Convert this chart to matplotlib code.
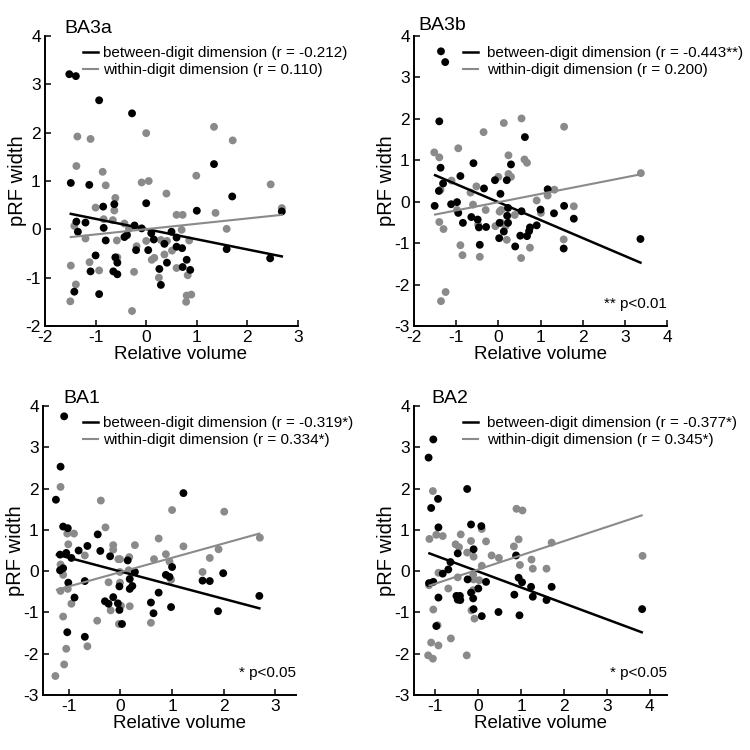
import matplotlib
matplotlib.use("Agg")
import matplotlib.pyplot as plt
import numpy as np

plt.rcParams['font.family'] = ['Liberation Sans', 'DejaVu Sans']
plt.rcParams['axes.unicode_minus'] = False

# ---------------- data ----------------
titles = ["BA3a", "BA3b", "BA1", "BA2"]
between_labels = ["between-digit dimension (r = -0.212)",
                  "between-digit dimension (r = -0.443**)",
                  "between-digit dimension (r = -0.319*)",
                  "between-digit dimension (r = -0.377*)"]
within_labels = ["within-digit dimension (r = 0.110)",
                 "within-digit dimension (r = 0.200)",
                 "within-digit dimension (r = 0.334*)",
                 "within-digit dimension (r = 0.345*)"]
notes = ["", "** p<0.01", "* p<0.05", "* p<0.05"]

# BA3a
ba3a_between_x = [-1.52, -1.39, -0.93, -0.28, -1.49, -1.125, 1.34, 1.70, 2.68, 1.0, 0.0, -0.85, -0.63,
                  -1.38, -1.2, -1.35, -0.84, -0.80, -0.43, -0.38, -0.23, -0.20, -0.09, 0.10, 0.15, 0.04,
                  0.36, 0.50, 0.60, 0.60, 0.71, 0.41, 0.26, 0.29, 0.80, 0.72, 0.87, 1.59, 2.45, -1.0,
                  -1.1, -0.65, -0.57, -0.57, -0.61, -1.42, -0.93]
ba3a_between_y = [3.21, 3.17, 2.67, 2.40, 0.96, 0.92, 1.35, 0.68, 0.37, 0.385, 0.54, 0.47, 0.52,
                  0.16, 0.14, -0.05, 0.03, -0.23, -0.16, -0.12, 0.08, -0.43, 0.02, -0.08, -0.21, -0.43,
                  -0.30, -0.05, -0.17, -0.36, -0.39, -0.69, -0.82, -1.15, -0.63, -0.78, -0.84, -0.41, -0.60, -0.54,
                  -0.87, -0.87, -0.93, -0.69, -0.58, -1.29, -1.34]
ba3a_within_x = [-1.36, -1.1, -1.38, -0.86, -0.8, 0.0, -0.09, 0.05, 0.40, 0.99, 1.34, 1.71, 2.46, 2.68,
                 1.37, 1.59, 0.6, 0.72, 0.70, -0.61, -0.63, -1.0, -0.84, -0.66, -1.42, -1.2, -0.43, -0.34,
                 -0.19, 0.0, 0.11, 0.16, 0.29, 0.41, 0.36, 0.51, 0.6, 0.85, 0.82, 0.80, 0.89, 0.79, 0.25,
                 -0.58, -0.57, -1.12, -0.93, -1.49, -1.39, -1.5, -0.28, -0.24]
ba3a_within_y = [1.92, 1.87, 1.31, 1.19, 0.91, 1.99, 0.97, 1.0, 0.74, 1.11, 2.12, 1.84, 0.93, 0.44,
                 0.34, 0.01, 0.30, 0.30, -0.01, 0.65, 0.39, 0.45, 0.21, 0.19, 0.07, -0.19, 0.12, 0.01,
                 -0.35, -0.24, -0.63, -0.59, -0.22, -0.24, -0.52, -0.44, -0.80, -0.23, -0.95, -1.37, -1.35, -1.5, -1.0,
                 -0.23, -0.58, -0.68, -0.85, -0.75, -1.14, -1.49, -1.69, -0.88]
ba3a_fit_x = [-1.49, 2.68]
ba3a_fit_between = [0.32, -0.56]
ba3a_fit_within = [-0.16, 0.30]

# BA3b
ba3b_between_x = [-1.36, -1.26, -1.40, -1.37, -1.31, -1.51, -1.41, -1.12, -0.98, -0.95, -0.90, -0.84,
                  -0.64, -0.59, -0.49, -0.46, -0.44, -0.34, -0.29, -0.08, 0.05, 0.20, 0.30, 0.63, 0.02,
                  0.13, 0.03, 0.23, 0.21, 0.23, 0.40, 0.55, 0.52, 0.68, 0.73, 0.75, 0.91, 1.0, 1.17,
                  1.32, 1.56, 1.55, 1.79, 3.37]
ba3b_between_y = [3.63, 3.37, 1.94, 0.82, 0.44, -0.10, 0.26, -0.06, -0.01, -0.27, 0.62, -0.51,
                  -0.37, 0.93, -0.43, -0.62, -1.04, 0.32, -0.61, 0.52, 0.19, 0.52, 0.90, 1.56, -0.88,
                  -0.72, -0.51, -0.51, -0.34, -0.15, -1.08, -0.23, -0.82, -0.83, -0.71, -0.62, -0.57, -0.19, 0.30,
                  -0.28, -0.10, -1.13, -0.41, -0.90]
ba3b_within_x = [-1.52, -1.40, -0.95, -0.35, 0.13, 0.55, 1.56, 0.62, 0.68, 0.24, 0.24, 0.30, 0.0,
                 -1.11, -1.37, -0.66, -0.52, -0.60, -0.30, -0.98, -1.40, -1.30, 0.03, 0.07, -0.07, 0.17,
                 0.07, 0.39, 0.20, 0.75, 0.54, 0.91, 1.01, 1.17, 1.33, 1.79, 1.55, -0.48, -0.90, -0.85,
                 -0.44, -1.25, -1.36, 3.38]
ba3b_within_y = [1.19, 1.07, 1.29, 1.68, 1.90, 2.01, 1.81, 1.02, 0.94, 1.12, 0.67, 0.60, 0.60,
                 0.51, 0.29, 0.22, 0.37, -0.07, -0.20, -0.20, -0.49, -0.66, -0.24, -0.20, -0.59, -0.59,
                 -0.51, -0.32, -0.92, -1.11, -1.36, 0.03, -0.27, 0.15, 0.29, -0.11, -0.91, -0.55, -1.05, -1.29,
                 -1.33, -2.18, -2.40, 0.69]
ba3b_fit_x = [-1.50, 3.37]
ba3b_fit_between = [0.64, -1.47]
ba3b_fit_within = [-0.31, 0.66]

# BA1
ba1_between_x = [-1.09, -1.16, -1.25, -1.11, -1.02, -1.17, -1.05, -1.11, -1.17, -0.95, -1.01, -0.89,
                 -1.03, -0.81, -0.64, -0.69, -0.69, -0.44, -0.39, -0.20, -0.30, -0.23, -0.14, -0.05,
                 -0.02, -0.02, 0.03, 0.14, 0.18, 0.18, 0.23, 0.28, 0.59, 0.64, 0.74, 0.88, 0.95, 1.0,
                 0.98, 1.22, 1.59, 1.73, 1.89, 1.99, 2.69]
ba1_between_y = [3.75, 2.53, 1.73, 1.08, 1.04, 0.40, 0.44, 0.07, 0.02, 0.32, -0.28, -0.64,
                 -1.48, 0.50, 0.61, -0.24, -1.59, 0.89, 0.49, 0.36, -0.73, -0.79, -0.63, -0.78,
                 -0.94, -0.37, -1.28, 0.26, -0.19, -0.43, -0.36, -0.02, -0.76, -1.02, -0.52, -0.09, -0.14, 0.10,
                 -0.87, 1.89, -0.23, -0.24, -0.97, -0.05, -0.60]
ba1_within_x = [-1.16, -1.26, -1.09, -1.05, -1.11, -1.16, -1.11, -1.16, -1.02, -1.01, -1.03, -0.90,
                -0.95, -0.69, -0.64, -0.45, -0.38, -0.29, -0.23, -0.19, -0.14, -0.14, -0.04, -0.01,
                -0.01, -0.01, 0.01, -0.03, 0.17, 0.16, 0.18, 0.28, 0.59, 0.65, 0.74, 0.88, 0.95, 0.98,
                1.0, 1.22, 1.59, 1.73, 1.90, 2.01, 2.70]
ba1_within_y = [2.04, -2.54, -2.26, -1.88, -1.10, 0.16, -0.09, -0.48, -0.43, 0.65, 0.91, 0.91,
                -0.79, 0.38, -1.82, -1.20, 1.71, 1.06, -0.27, -0.95, 0.63, 0.52, 0.29, 0.29,
                -0.28, -0.02, -0.84, -1.28, 0.34, 0.02, -0.85, 0.63, -1.25, 0.29, 0.79, 0.41, 0.23, -0.21,
                1.48, 0.60, -0.02, 0.32, 0.53, 1.44, 0.81]
ba1_fit_x = [-1.23, 2.69]
ba1_fit_between = [0.40, -0.90]
ba1_fit_within = [-0.45, 0.91]

# BA2
ba2_between_x = [-1.16, -1.05, -1.10, -0.94, -0.93, -1.15, -1.05, -0.93, -0.98, -0.83, -0.70, -0.65,
                 -0.48, -0.51, -0.48, -0.43, -0.42, -0.26, -0.25, -0.17, -0.11, -0.17, -0.12, -0.11,
                 0.0, 0.07, 0.08, 0.18, 0.47, 0.84, 0.88, 0.94, 0.96, 1.02, 1.23, 1.27, 1.59, 1.71, 3.82]
ba2_between_y = [2.75, 3.19, 1.53, 1.75, 1.06, -0.29, -0.26, -0.64, -1.33, -0.06, 0.04, 0.22,
                 0.43, -0.60, -0.69, -0.60, -0.70, 1.99, -0.20, 1.13, 0.53, -0.52, -0.66, -0.92,
                 -0.42, 1.09, -1.09, -0.26, -0.99, -0.57, 0.38, -0.16, -1.07, -0.27, -0.38, -0.62, -0.70, -0.38, -0.92]
ba2_within_x = [-1.14, -1.06, -0.98, -0.83, -1.17, -1.06, -1.10, -1.05, -0.95, -0.93, -0.93, -1.15,
                -0.70, -0.64, -0.53, -0.45, -0.41, -0.48, -0.26, -0.27, -0.17, -0.11, -0.16, -0.09,
                -0.12, -0.11, -0.12, 0.02, 0.08, 0.08, 0.18, 0.31, 0.48, 0.83, 0.89, 1.03, 0.94, 0.97,
                1.24, 1.27, 1.59, 1.71, 3.83]
ba2_within_y = [0.78, 1.94, 0.88, 0.85, -2.04, -2.12, -1.73, -0.93, -1.31, -1.80, -0.04, -0.34,
                -0.42, -1.63, 0.65, 0.58, 0.89, -0.15, 0.45, -2.04, 0.73, 0.35, -0.95, -1.15,
                -0.09, -0.20, -0.46, -0.22, 1.02, 0.13, 0.72, 0.38, 0.32, 0.60, 1.51, 1.47, 0.77, 0.15,
                0.28, 0.06, 0.06, 0.69, 0.37]
ba2_fit_x = [-1.14, 3.81]
ba2_fit_between = [0.43, -1.48]
ba2_fit_within = [-0.35, 1.35]

xlims = [(-2, 3), (-2, 4), (-1.5, 3.4), (-1.5, 4.4)]
ylims = [(-2, 4), (-3, 4), (-3, 4), (-3, 4)]
xticks = [[-2, -1, 0, 1, 2, 3], [-2, -1, 0, 1, 2, 3, 4], [-1, 0, 1, 2, 3], [-1, 0, 1, 2, 3, 4]]
yticks = [[-2, -1, 0, 1, 2, 3, 4], [-3, -2, -1, 0, 1, 2, 3, 4], [-3, -2, -1, 0, 1, 2, 3, 4],
          [-3, -2, -1, 0, 1, 2, 3, 4]]

between_x = [ba3a_between_x, ba3b_between_x, ba1_between_x, ba2_between_x]
between_y = [ba3a_between_y, ba3b_between_y, ba1_between_y, ba2_between_y]
within_x = [ba3a_within_x, ba3b_within_x, ba1_within_x, ba2_within_x]
within_y = [ba3a_within_y, ba3b_within_y, ba1_within_y, ba2_within_y]
fit_x = [ba3a_fit_x, ba3b_fit_x, ba1_fit_x, ba2_fit_x]
fit_between = [ba3a_fit_between, ba3b_fit_between, ba1_fit_between, ba2_fit_between]
fit_within = [ba3a_fit_within, ba3b_fit_within, ba1_fit_within, ba2_fit_within]

# ---------------- layout ----------------
W = H = 750.0
rects_px = [(45, 36, 298, 326), (414, 36, 667, 326), (43, 406, 296, 695), (414, 406, 667, 695)]
legend_anchor = [(0.150, 0.965), (0.194, 0.965), (0.158, 0.965), (0.194, 0.965)]
legend_textpad = [0.3, 0.55, 0.3, 0.55]
title_x = [0.075, 0.016, 0.079, 0.067]
title_dy = [3, 6, 3, 3]
xlabel_x = [0.535, 0.5, 0.541, 0.5]

BLACK = "#000000"
GRAY = "#8a8a8a"

fig = plt.figure(figsize=(7.5, 7.5), dpi=100)
for i in range(4):
    l, t, r, b = rects_px[i]
    ax = fig.add_axes([l / W, 1 - b / H, (r - l) / W, (b - t) / H])
    ax.scatter(within_x[i], within_y[i], s=32, color=GRAY, edgecolors='none', zorder=2)
    ax.scatter(between_x[i], between_y[i], s=32, color=BLACK, edgecolors='none', zorder=3)
    lb, = ax.plot(fit_x[i], fit_between[i], color=BLACK, lw=1.8, zorder=4, label=between_labels[i])
    lw_, = ax.plot(fit_x[i], fit_within[i], color=GRAY, lw=1.5, zorder=4, label=within_labels[i])
    ax.set_xlim(*xlims[i])
    ax.set_ylim(*ylims[i])
    ax.set_xticks(xticks[i])
    ax.set_yticks(yticks[i])
    for s in ['top', 'right']:
        ax.spines[s].set_visible(False)
    for s in ['left', 'bottom']:
        ax.spines[s].set_linewidth(1.4)
    ax.tick_params(direction='in', length=4, width=1.1, labelsize=12.5, pad=3)
    ax.set_xlabel("Relative volume", fontsize=13.5)
    ax.xaxis.set_label_coords(xlabel_x[i], -0.068)
    ax.set_ylabel("pRF width", fontsize=14.5, labelpad=-1)
    ax.text(title_x[i], 1 + title_dy[i] / (b - t), titles[i], transform=ax.transAxes,
            fontsize=14, ha='left', va='baseline')
    leg = ax.legend(handles=[lb, lw_], loc='upper left', bbox_to_anchor=legend_anchor[i],
                    frameon=False, fontsize=11, handlelength=1.0, handletextpad=legend_textpad[i],
                    borderpad=0, borderaxespad=0, labelspacing=0.2)
    if notes[i]:
        ax.text(1.0, 0.062, notes[i], transform=ax.transAxes, fontsize=11, ha='right', va='baseline')

fig.savefig("out.png", dpi=100)
